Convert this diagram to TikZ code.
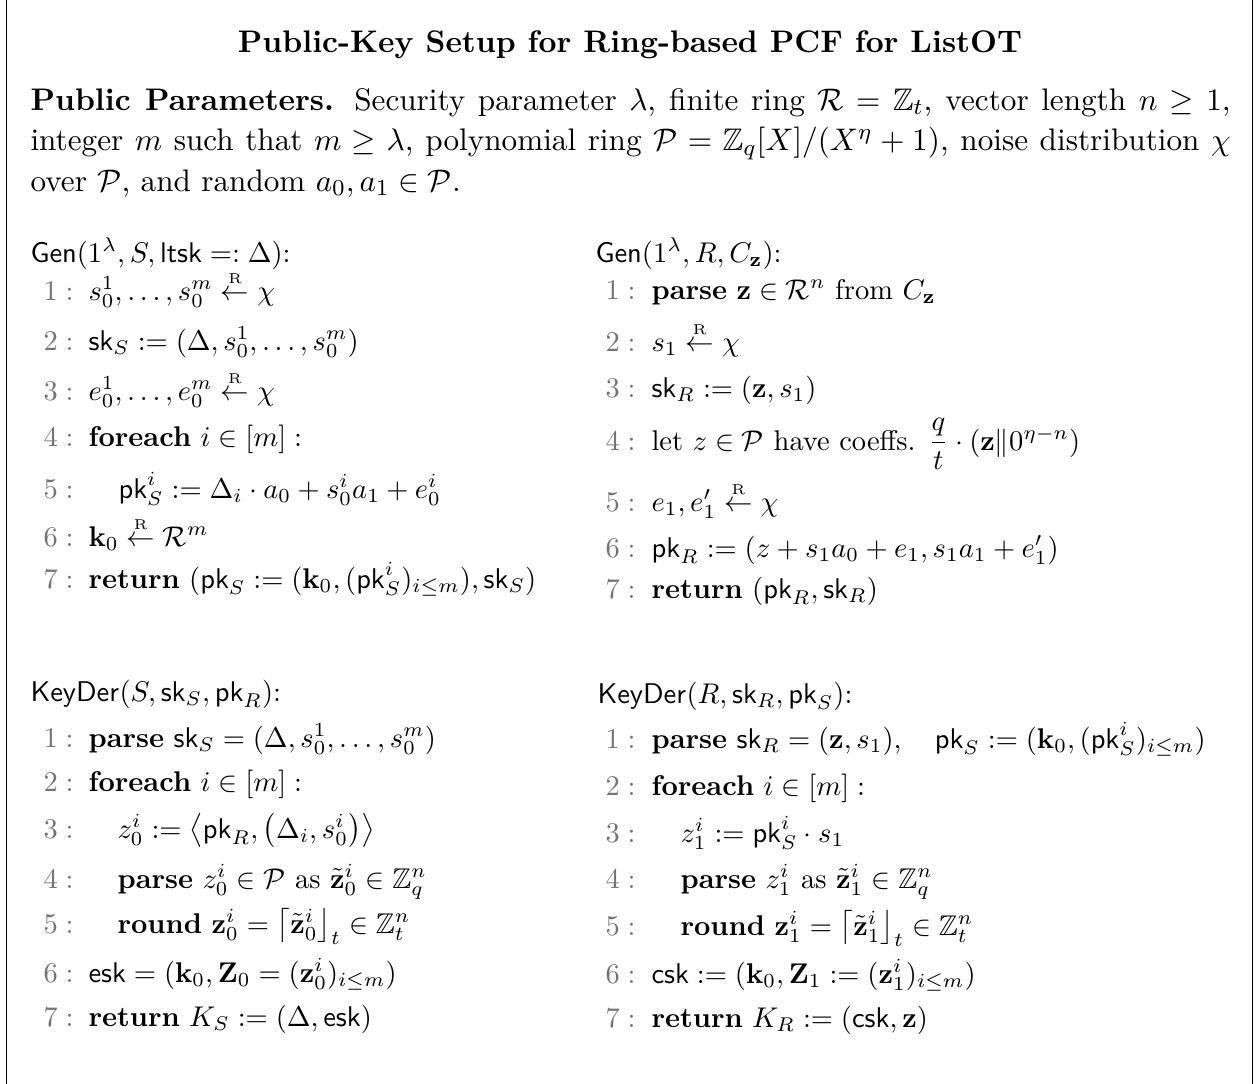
\documentclass[tikz,border=0pt,11pt]{standalone}
\usepackage{amsmath,amssymb}
% sampling arrow with a small roman R on top
\newcommand{\rsample}{\stackrel{\scriptscriptstyle\mathrm{R}}{\leftarrow}}
\begin{document}
\begin{tikzpicture}[x=0.351pt,y=-0.351pt,
  frameline/.style={line width=0.55pt},
  lnum/.style={anchor=base west,inner sep=0pt,text=black!55,font=\small},
  code/.style={anchor=base west,inner sep=0pt,font=\small},
  head/.style={anchor=base west,inner sep=0pt,font=\small},
  body/.style={anchor=base west,inner sep=0pt},
  titletext/.style={anchor=base,inner sep=0pt,font=\bfseries}]
\useasboundingbox (0,0) rectangle (1257,1084);

% side rules of the frame
\coordinate (ftl) at (6.5,0);   \coordinate (fbl) at (6.5,1084);
\coordinate (ftr) at (1252.5,0);\coordinate (fbr) at (1252.5,1084);
\draw[frameline] (ftl) -- (fbl);
\draw[frameline] (ftr) -- (fbr);

% title
\node[titletext] (title) at (630,52) {Public-Key Setup for Ring-based PCF for ListOT};

% public parameters paragraph (justified lines)
\node[body] (pp1) at (30,110) {\makebox[421.2pt][s]{\textbf{Public Parameters.} Security parameter $\lambda$, finite ring $\mathcal{R} = \mathbb{Z}_t$, vector length $n \geq 1$,}};
\node[body] (pp2) at (30,151) {\makebox[421.2pt][s]{integer $m$ such that $m \geq \lambda$, polynomial ring $\mathcal{P} = \mathbb{Z}_q[X]/(X^\eta + 1)$, noise distribution $\chi$}};
\node[body] (pp3) at (30,191) {over $\mathcal{P}$, and random $a_0, a_1 \in \mathcal{P}$.};

% ---- sender key generation ----
\node[head] (gs) at (30,262) {$\mathsf{Gen}(1^\lambda, S, \mathsf{ltsk} \mathrel{=:} \Delta)$:};
\foreach \n/\y in {1/300,2/350,3/400,4/446,5/498,6/546,7/588}
  \node[lnum] (gsn\n) at (43,\y) {$\n :$};
\node[code] (gs1) at (88,300) {$s_0^1, \ldots, s_0^m \rsample \chi$};
\node[code] (gs2) at (88,350) {$\mathsf{sk}_S := (\Delta, s_0^1, \ldots, s_0^m)$};
\node[code] (gs3) at (88,400) {$e_0^1, \ldots, e_0^m \rsample \chi$};
\node[code] (gs4) at (88,446) {$\textbf{foreach}\ i \in [m] :$};
\node[code] (gs5) at (118,498) {$\mathsf{pk}_S^i := \Delta_i \cdot a_0 + s_0^i a_1 + e_0^i$};
\node[code] (gs6) at (88,546) {$\mathbf{k}_0 \rsample \mathcal{R}^m$};
\node[code] (gs7) at (88,588) {$\textbf{return}\ (\mathsf{pk}_S := (\mathbf{k}_0, (\mathsf{pk}_S^i)_{i \leq m}), \mathsf{sk}_S)$};

% ---- receiver key generation ----
\node[head] (gr) at (595,262) {$\mathsf{Gen}(1^\lambda, R, C_{\mathbf{z}})$:};
\foreach \n/\y in {1/299,2/351,3/397,4/450,5/511,6/557,7/598}
  \node[lnum] (grn\n) at (605,\y) {$\n :$};
\node[code] (gr1) at (651,299) {$\textbf{parse}\ \mathbf{z} \in \mathcal{R}^n$ from $C_{\mathbf{z}}$};
\node[code] (gr2) at (651,351) {$s_1 \rsample \chi$};
\node[code] (gr3) at (651,397) {$\mathsf{sk}_R := (\mathbf{z}, s_1)$};
\node[code] (gr4) at (651,450) {let $z \in \mathcal{P}$ have coeffs. $\dfrac{q}{t} \cdot (\mathbf{z} \| 0^{\eta - n})$};
\node[code] (gr5) at (651,511) {$e_1, e_1' \rsample \chi$};
\node[code] (gr6) at (651,557) {$\mathsf{pk}_R := (z + s_1 a_0 + e_1, s_1 a_1 + e_1')$};
\node[code] (gr7) at (651,598) {$\textbf{return}\ (\mathsf{pk}_R, \mathsf{sk}_R)$};

% ---- sender key derivation ----
\node[head] (ks) at (30,701) {$\mathsf{KeyDer}(S, \mathsf{sk}_S, \mathsf{pk}_R)$:};
\foreach \n/\y in {1/747,2/791,3/838,4/888,5/933,6/982,7/1026}
  \node[lnum] (ksn\n) at (43,\y) {$\n :$};
\node[code] (ks1) at (88,747) {$\textbf{parse}\ \mathsf{sk}_S = (\Delta, s_0^1, \ldots, s_0^m)$};
\node[code] (ks2) at (88,791) {$\textbf{foreach}\ i \in [m] :$};
\node[code] (ks3) at (117,838) {$z_0^i := \big\langle \mathsf{pk}_R, \big(\Delta_i, s_0^i\big) \big\rangle$};
\node[code] (ks4) at (117,888) {$\textbf{parse}\ z_0^i \in \mathcal{P}$ as $\tilde{\mathbf{z}}_0^i \in \mathbb{Z}_q^n$};
\node[code] (ks5) at (117,933) {$\textbf{round}\ \mathbf{z}_0^i = \big\lceil \tilde{\mathbf{z}}_0^i \big\rfloor_t \in \mathbb{Z}_t^n$};
\node[code] (ks6) at (88,982) {$\mathsf{esk} = (\mathbf{k}_0, \mathbf{Z}_0 = (\mathbf{z}_0^i)_{i \leq m})$};
\node[code] (ks7) at (88,1026) {$\textbf{return}\ K_S := (\Delta, \mathsf{esk})$};

% ---- receiver key derivation ----
\node[head] (kr) at (597,703) {$\mathsf{KeyDer}(R, \mathsf{sk}_R, \mathsf{pk}_S)$:};
\foreach \n/\y in {1/748,2/795,3/842,4/888,5/935,6/983,7/1027}
  \node[lnum] (krn\n) at (605,\y) {$\n :$};
\node[code] (kr1) at (651,748) {$\textbf{parse}\ \mathsf{sk}_R = (\mathbf{z}, s_1), \quad \mathsf{pk}_S := (\mathbf{k}_0, (\mathsf{pk}_S^i)_{i \leq m})$};
\node[code] (kr2) at (651,795) {$\textbf{foreach}\ i \in [m] :$};
\node[code] (kr3) at (680,842) {$z_1^i := \mathsf{pk}_S^i \cdot s_1$};
\node[code] (kr4) at (680,888) {$\textbf{parse}\ z_1^i$ as $\tilde{\mathbf{z}}_1^i \in \mathbb{Z}_q^n$};
\node[code] (kr5) at (680,935) {$\textbf{round}\ \mathbf{z}_1^i = \big\lceil \tilde{\mathbf{z}}_1^i \big\rfloor_t \in \mathbb{Z}_t^n$};
\node[code] (kr6) at (651,983) {$\mathsf{csk} := (\mathbf{k}_0, \mathbf{Z}_1 := (\mathbf{z}_1^i)_{i \leq m})$};
\node[code] (kr7) at (651,1027) {$\textbf{return}\ K_R := (\mathsf{csk}, \mathbf{z})$};
\end{tikzpicture}
\end{document}
